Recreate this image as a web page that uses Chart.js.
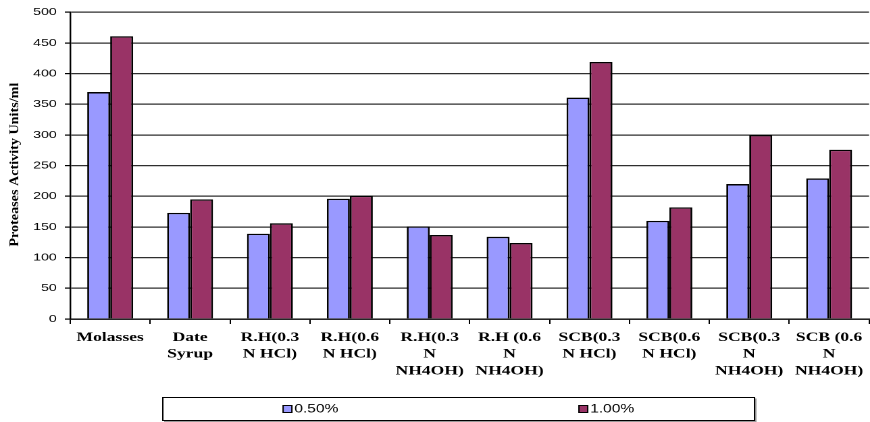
<!DOCTYPE html>
<html>
<head>
<meta charset="utf-8">
<script src="https://cdn.jsdelivr.net/npm/chart.js@4/dist/chart.umd.min.js"></script>
<style>
  html, body { margin: 0; padding: 0; background: #fff; overflow: hidden; }
  /* The chart is laid out on a narrower box and widened to 870px,
     which gives the text its broad, stretched look. */
  #frame {
    position: absolute; left: 0; top: 0;
    width: 644px; height: 422px;
    transform: scaleX(1.35093);
    transform-origin: 0 0;
  }
</style>
</head>
<body>
<div id="frame"><canvas id="chart"></canvas></div>
<script>
// Substrates tested (multi-line tick labels)
const categories = [
  ['Molasses'],
  ['Date', 'Syrup'],
  ['R.H(0.3', 'N HCl)'],
  ['R.H(0.6', 'N HCl)'],
  ['R.H(0.3', 'N', 'NH4OH)'],
  ['R.H (0.6', 'N', 'NH4OH)'],
  ['SCB(0.3', 'N HCl)'],
  ['SCB(0.6', 'N HCl)'],
  ['SCB(0.3', 'N', 'NH4OH)'],
  ['SCB (0.6', 'N', 'NH4OH)']
];

const seriesNames = ['0.50%', '1.00%'];

// Protease activity (U/ml) for each substrate concentration
const activity050 = [370, 173, 139, 196, 151, 134, 361, 160, 220, 229];
const activity100 = [461, 195, 156, 201, 137, 124, 419, 182, 300, 276];

const yTickValues = [0, 50, 100, 150, 200, 250, 300, 350, 400, 450, 500];

const yTitle = 'Proteases Activity Units/ml';

// Rotated, stretched y-axis caption
const axisTitle = {
  id: 'axisTitle',
  afterDraw(chart, args, opts) {
    const { ctx, chartArea } = chart;
    ctx.save();
    ctx.font = 'bold 9.5px "Liberation Serif", "Times New Roman", serif';
    const w = ctx.measureText(opts.text).width;
    const k = opts.length / w;
    ctx.translate(opts.x, (chartArea.top + chartArea.bottom) / 2 - 1);
    ctx.rotate(-Math.PI / 2);
    ctx.scale(k, 1);
    ctx.fillStyle = '#000';
    ctx.textAlign = 'center';
    ctx.textBaseline = 'middle';
    ctx.fillText(opts.text, 0, 0);
    ctx.restore();
  }
};

// Framed legend below the chart, one entry centred in each half
const boxedLegend = {
  id: 'boxedLegend',
  afterDraw(chart, args, opts) {
    const { ctx } = chart;
    const { left, top, right, bottom } = opts;
    ctx.save();
    ctx.lineWidth = 1;
    ctx.strokeStyle = '#999';
    ctx.beginPath();
    ctx.moveTo(right + 1, top + 1);
    ctx.lineTo(right + 1, bottom + 1);
    ctx.lineTo(left + 1, bottom + 1);
    ctx.stroke();
    ctx.strokeStyle = '#000';
    ctx.strokeRect(left, top, right - left, bottom - top);

    const half = (right - left) / chart.data.datasets.length;
    const cy = (top + bottom) / 2;
    ctx.font = '11.5px "Liberation Sans", Arial, sans-serif';
    ctx.textBaseline = 'middle';
    ctx.textAlign = 'left';
    chart.data.datasets.forEach((ds, i) => {
      const tw = ctx.measureText(ds.label).width;
      const mw = 6.5, mh = 7, gap = 1.8;
      const cx = left + half * (i + 0.5);
      const x0 = cx - (mw + gap + tw) / 2;
      ctx.fillStyle = ds.backgroundColor;
      ctx.fillRect(x0, cy - mh / 2, mw, mh);
      ctx.strokeStyle = '#000';
      ctx.strokeRect(x0, cy - mh / 2, mw, mh);
      ctx.fillStyle = '#000';
      ctx.fillText(ds.label, x0 + mw + gap, cy + 0.5);
    });
    ctx.restore();
  }
};

const barStyle = {
  borderColor: '#000',
  borderWidth: 1.4,
  categoryPercentage: 0.575,
  barPercentage: 1.0
};

new Chart(document.getElementById('chart'), {
  type: 'bar',
  data: {
    labels: categories,
    datasets: [
      Object.assign({ label: seriesNames[0], data: activity050, backgroundColor: '#9999FF' }, barStyle),
      Object.assign({ label: seriesNames[1], data: activity100, backgroundColor: '#993366' }, barStyle)
    ]
  },
  options: {
    responsive: true,
    maintainAspectRatio: false,
    animation: false,
    devicePixelRatio: 2,
    layout: { padding: { top: 11, right: 0, bottom: 25, left: 0 } },
    plugins: {
      legend: { display: false },
      tooltip: { enabled: false },
      axisTitle: { text: yTitle, x: 11.1, length: 164 },
      boxedLegend: { left: 120.5, top: 397.5, right: 558.5, bottom: 420.5 }
    },
    scales: {
      x: {
        afterFit(scale) { scale.height = 78; },
        grid: {
          offset: true,
          drawOnChartArea: false,
          drawTicks: true,
          tickLength: 5,
          tickColor: '#000',
          lineWidth: 1
        },
        border: { display: true, color: '#000', width: 1.2 },
        ticks: {
          autoSkip: false,
          maxRotation: 0,
          minRotation: 0,
          padding: 5,
          color: '#000',
          font: { family: '"Liberation Serif", "Times New Roman", serif', size: 13, weight: 'bold', lineHeight: 1.3 }
        }
      },
      y: {
        min: yTickValues[0],
        max: yTickValues[yTickValues.length - 1],
        afterFit(scale) { scale.width = 52; },
        afterBuildTicks(scale) { scale.ticks = yTickValues.map(v => ({ value: v })); },
        grid: {
          color: '#2e2e2e',
          lineWidth: 1.2,
          drawTicks: true,
          tickLength: 4,
          tickColor: '#000'
        },
        border: { display: true, color: '#000', width: 1.2 },
        ticks: {
          padding: 6,
          color: '#000',
          font: { family: '"Liberation Sans", Arial, sans-serif', size: 10.5 }
        }
      }
    }
  },
  plugins: [axisTitle, boxedLegend]
});
</script>
</body>
</html>
